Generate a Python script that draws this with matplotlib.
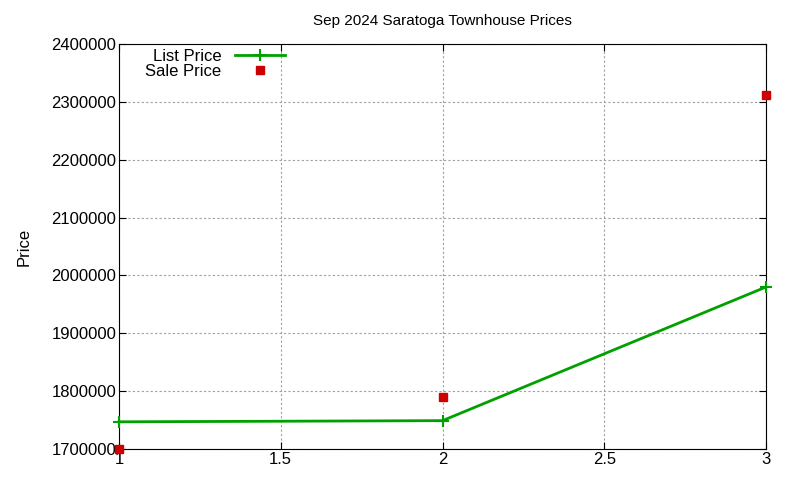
import matplotlib
matplotlib.use("Agg")
import matplotlib.pyplot as plt

x = [1, 2, 3]
list_price = [1747000, 1749000, 1980000]
sale_price = [1700000, 1790000, 2312000]
yticks = list(range(1700000, 2400001, 100000))
xticks = [1, 1.5, 2, 2.5, 3]

plt.rcParams['font.family'] = ['Liberation Sans', 'DejaVu Sans']
fig = plt.figure(figsize=(8, 4.8), dpi=100)
ax = fig.add_axes([119/800, 1-449/480, (766-119)/800, (449-44)/480])
ax.plot(x, list_price, color='#00a000', lw=2, marker='+', ms=8, mew=1.5, label='List Price', clip_on=False, zorder=3)
ax.plot(x, sale_price, color='#cc0000', ls='none', marker='s', ms=6, label='Sale Price', clip_on=False, zorder=4)
ax.set_xlim(1, 3)
ax.set_ylim(1700000, 2400000)
ax.set_xticks(xticks)
ax.set_xticklabels(['1', '1.5', '2', '2.5', '3'])
ax.set_yticks(yticks)
ax.set_yticklabels([str(v) for v in yticks])
ax.grid(True, color='#a0a0a0', ls=(0, (2, 2)), lw=0.8)
ax.tick_params(direction='in', labelsize=12, length=5, top=True, right=True, pad=2)
ax.set_ylabel('Price', fontsize=12, labelpad=14)
ax.set_title('Sep 2024 Saratoga Townhouse Prices', fontsize=11, pad=14)
leg = ax.legend(loc='upper left', bbox_to_anchor=(0.03, 1.005), frameon=False, fontsize=12,
                markerfirst=False, handlelength=3, borderaxespad=0.0, labelspacing=0.0)
for t in leg.get_texts():
    t.set_ha('right')
fig.savefig('out.png', dpi=100)
